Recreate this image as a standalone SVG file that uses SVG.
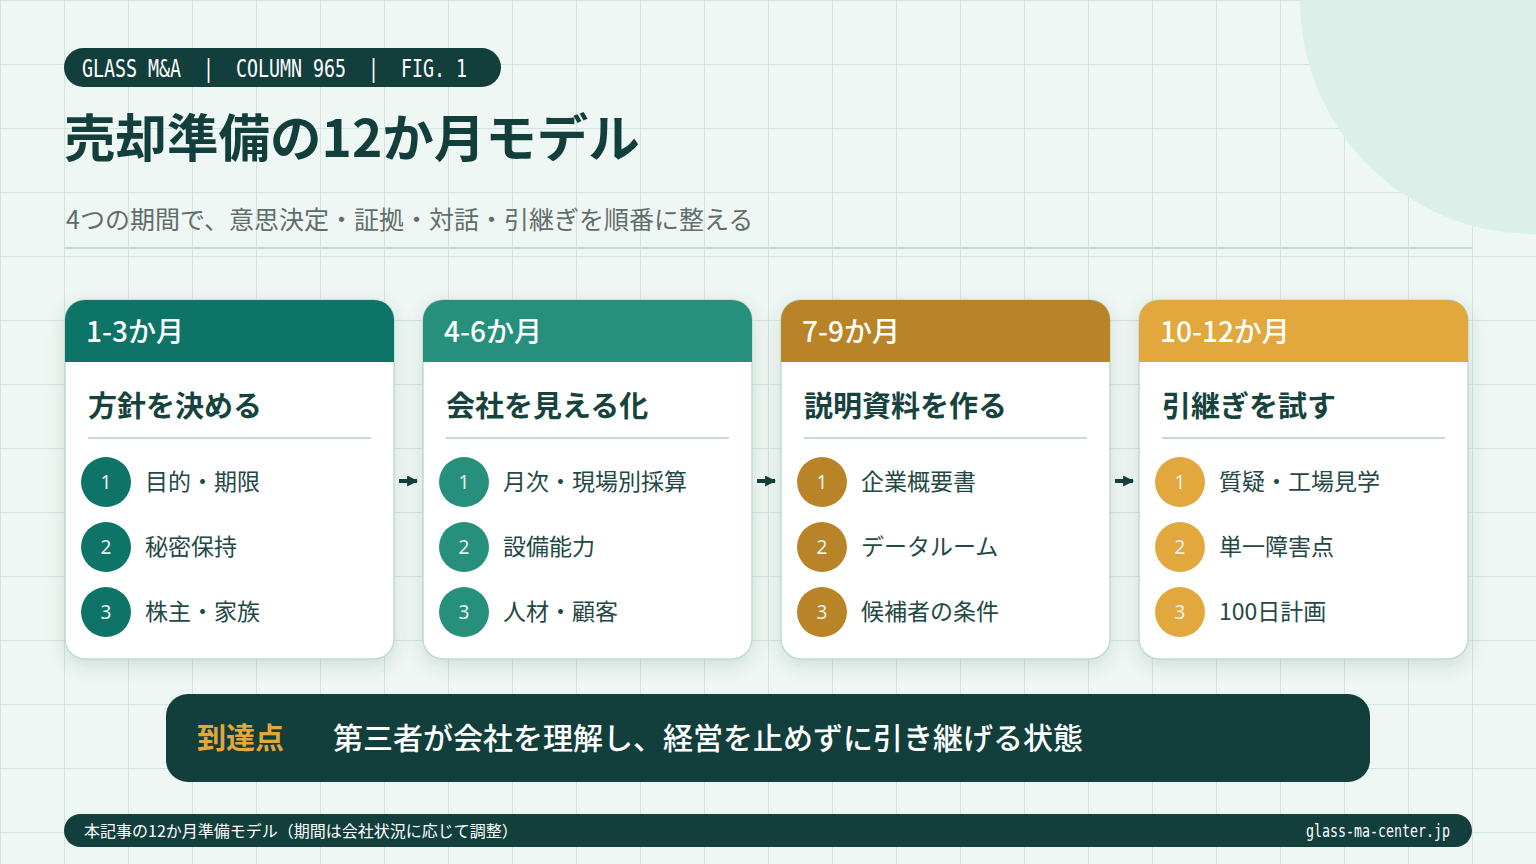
<svg xmlns="http://www.w3.org/2000/svg" width="1536" height="864" viewBox="0 0 1536 864">
<defs>
<pattern id="grid" width="64" height="64" patternUnits="userSpaceOnUse">
<path d="M0 0V64M0 0H64" fill="none" stroke="#c6e0d8" stroke-width="1.5"/>
</pattern>
<filter id="sh" x="-10%" y="-10%" width="120%" height="125%">
<feDropShadow dx="0" dy="6" stdDeviation="9" flood-color="#0f3d38" flood-opacity="0.14"/>
</filter>
<marker id="ah" viewBox="0 0 10 10" refX="9" refY="5" markerWidth="11" markerHeight="11" markerUnits="userSpaceOnUse" orient="auto">
<path d="M0 0L10 5L0 10Z" fill="#123f3c"/>
</marker>
<clipPath id="c1"><rect x="65" y="300" width="329" height="359" rx="20"/></clipPath>
<clipPath id="c2"><rect x="423" y="300" width="329" height="359" rx="20"/></clipPath>
<clipPath id="c3"><rect x="781" y="300" width="329" height="359" rx="20"/></clipPath>
<clipPath id="c4"><rect x="1139" y="300" width="329" height="359" rx="20"/></clipPath>
</defs>
<style>
.jp{font-family:"Noto Sans CJK JP","Noto Sans",sans-serif}
.mono{font-family:"DejaVu Sans Mono","Liberation Mono",monospace}
.card{fill:#ffffff;stroke:#bfdad2;stroke-width:1.5}
.hd{font-size:28px;fill:#ffffff;font-weight:500}
.ttl{font-size:29px;fill:#17433f;font-weight:700}
.div{stroke:#c5dcd6;stroke-width:2}
.num{font-size:19px;fill:#e6f3ef;text-anchor:middle;font-family:"Noto Sans","DejaVu Sans",sans-serif}
.itm{font-size:23px;fill:#244845}
.conn{stroke:#123f3c;stroke-width:4;fill:none}
</style>
<rect width="1536" height="864" fill="#eff7f4"/>
<rect width="1536" height="864" fill="url(#grid)"/>
<circle cx="1534" cy="0" r="234" fill="#dcf0ea"/>
<line x1="64" y1="248" x2="1472" y2="248" stroke="#bfdbd2" stroke-width="2"/>

<g id="header">
<rect x="64" y="48" width="437" height="39" rx="19.5" fill="#123f3c"/>
<text x="82" y="77" class="mono" fill="#ffffff" font-size="24" xml:space="preserve" textLength="385" lengthAdjust="spacingAndGlyphs">GLASS M&amp;A  |  COLUMN 965  |  FIG. 1</text>
</g>

<g id="title">
<text x="64" y="157" class="jp" font-size="51.5" font-weight="700" fill="#123f3c">売却準備の12か月モデル</text>
<text x="66" y="229" class="jp" font-size="25" fill="#5f6e6b">4つの期間で、意思決定・証拠・対話・引継ぎを順番に整える</text>
</g>

<g id="card1">
<rect x="65" y="300" width="329" height="359" rx="20" class="card" filter="url(#sh)"/>
<rect x="65" y="300" width="329" height="62" fill="#0e7468" clip-path="url(#c1)"/>
<text x="86" y="342" class="jp hd">1-3か月</text>
<text x="88" y="417" class="jp ttl">方針を決める</text>
<line x1="88" y1="438" x2="371" y2="438" class="div"/>
<circle cx="106" cy="482" r="25" fill="#0e7468"/><text x="106" y="489" class="num">1</text>
<text x="145" y="490" class="jp itm">目的・期限</text>
<circle cx="106" cy="547" r="25" fill="#0e7468"/><text x="106" y="554" class="num">2</text>
<text x="145" y="555" class="jp itm">秘密保持</text>
<circle cx="106" cy="612" r="25" fill="#0e7468"/><text x="106" y="619" class="num">3</text>
<text x="145" y="620" class="jp itm">株主・家族</text>
</g>

<g id="card2">
<rect x="423" y="300" width="329" height="359" rx="20" class="card" filter="url(#sh)"/>
<rect x="423" y="300" width="329" height="62" fill="#27907c" clip-path="url(#c2)"/>
<text x="444" y="342" class="jp hd">4-6か月</text>
<text x="446" y="417" class="jp ttl">会社を見える化</text>
<line x1="446" y1="438" x2="729" y2="438" class="div"/>
<circle cx="464" cy="482" r="25" fill="#27907c"/><text x="464" y="489" class="num">1</text>
<text x="503" y="490" class="jp itm">月次・現場別採算</text>
<circle cx="464" cy="547" r="25" fill="#27907c"/><text x="464" y="554" class="num">2</text>
<text x="503" y="555" class="jp itm">設備能力</text>
<circle cx="464" cy="612" r="25" fill="#27907c"/><text x="464" y="619" class="num">3</text>
<text x="503" y="620" class="jp itm">人材・顧客</text>
</g>

<g id="card3">
<rect x="781" y="300" width="329" height="359" rx="20" class="card" filter="url(#sh)"/>
<rect x="781" y="300" width="329" height="62" fill="#b98427" clip-path="url(#c3)"/>
<text x="802" y="342" class="jp hd">7-9か月</text>
<text x="804" y="417" class="jp ttl">説明資料を作る</text>
<line x1="804" y1="438" x2="1087" y2="438" class="div"/>
<circle cx="822" cy="482" r="25" fill="#b98427"/><text x="822" y="489" class="num">1</text>
<text x="861" y="490" class="jp itm">企業概要書</text>
<circle cx="822" cy="547" r="25" fill="#b98427"/><text x="822" y="554" class="num">2</text>
<text x="861" y="555" class="jp itm">データルーム</text>
<circle cx="822" cy="612" r="25" fill="#b98427"/><text x="822" y="619" class="num">3</text>
<text x="861" y="620" class="jp itm">候補者の条件</text>
</g>

<g id="card4">
<rect x="1139" y="300" width="329" height="359" rx="20" class="card" filter="url(#sh)"/>
<rect x="1139" y="300" width="329" height="62" fill="#e2a73d" clip-path="url(#c4)"/>
<text x="1160" y="342" class="jp hd">10-12か月</text>
<text x="1162" y="417" class="jp ttl">引継ぎを試す</text>
<line x1="1162" y1="438" x2="1445" y2="438" class="div"/>
<circle cx="1180" cy="482" r="25" fill="#e2a73d"/><text x="1180" y="489" class="num">1</text>
<text x="1219" y="490" class="jp itm">質疑・工場見学</text>
<circle cx="1180" cy="547" r="25" fill="#e2a73d"/><text x="1180" y="554" class="num">2</text>
<text x="1219" y="555" class="jp itm">単一障害点</text>
<circle cx="1180" cy="612" r="25" fill="#e2a73d"/><text x="1180" y="619" class="num">3</text>
<text x="1219" y="620" class="jp itm">100日計画</text>
</g>

<g id="connectors">
<line x1="399" y1="481" x2="417" y2="481" class="conn" marker-end="url(#ah)"/>
<line x1="757" y1="481" x2="775" y2="481" class="conn" marker-end="url(#ah)"/>
<line x1="1115" y1="481" x2="1133" y2="481" class="conn" marker-end="url(#ah)"/>
</g>

<g id="goal">
<rect x="166" y="694" width="1204" height="88" rx="22" fill="#123f3c"/>
<text x="197" y="749" class="jp" font-size="29" font-weight="700" fill="#e2a73d">到達点</text>
<text x="333" y="749" class="jp" font-size="30" font-weight="500" fill="#ffffff">第三者が会社を理解し、経営を止めずに引き継げる状態</text>
</g>

<g id="footer">
<rect x="64" y="814" width="1408" height="33" rx="16.5" fill="#123f3c"/>
<text x="84" y="837" class="jp" font-size="16" fill="#ffffff">本記事の12か月準備モデル（期間は会社状況に応じて調整）</text>
<text x="1450" y="837" class="mono" font-size="17" fill="#ffffff" text-anchor="end" textLength="144" lengthAdjust="spacingAndGlyphs">glass-ma-center.jp</text>
</g>
</svg>
